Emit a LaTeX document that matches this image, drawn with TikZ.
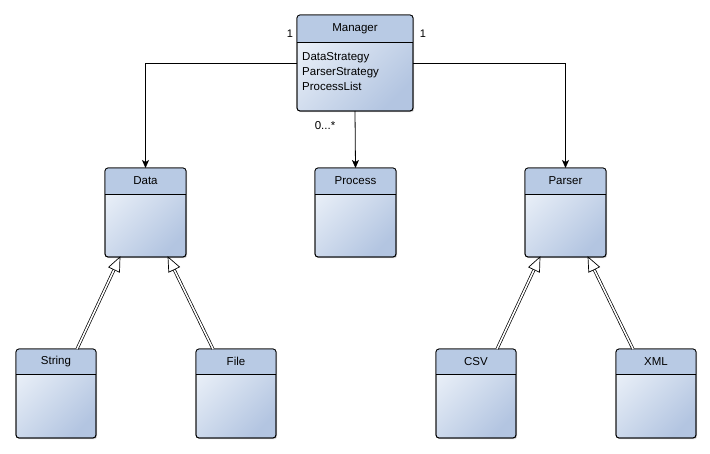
\documentclass[tikz,border=0pt]{standalone}
\usepackage{fontspec}
\setmainfont{Liberation Sans}
\usetikzlibrary{arrows.meta,calc,shadows}
\definecolor{headblue}{HTML}{B8CAE4}
\definecolor{lightblue}{HTML}{EAF0F8}
\definecolor{darkblue}{HTML}{B3C5E1}
\tikzset{
  classbox/.style={draw=black, line width=0.8pt, rounded corners=3pt, anchor=north west,
    inner sep=0pt, outer sep=0pt, top color=lightblue, bottom color=darkblue, shading angle=45,
    drop shadow={shadow xshift=1.2pt, shadow yshift=-1.2pt, opacity=0.25, fill=black!60}},
  classtitle/.style={font=\fontsize{11.5}{13}\selectfont, inner sep=0pt},
  label/.style={font=\fontsize{11}{13}\selectfont, inner sep=0pt},
  assoc/.style={line width=0.8pt, -{Stealth[length=8pt,width=7pt,inset=2pt]}},
  inherit/.style={line width=0.7pt, double, double distance=1.6pt, shorten >=13.5pt},
  inheritheadshape/.style={draw=black, line width=0.7pt, fill=white, line join=miter}
}
\newcommand\umlclass[7]{%
  \node[classbox, minimum width=#4pt, minimum height=#5pt] (#1) at (#2,-#3) {};
  \begin{scope}
    \clip[rounded corners=3pt] (#1.north west) rectangle (#1.south east);
    \fill[headblue] (#1.north west) rectangle ($(#1.north east)+(0,-#6)$);
  \end{scope}
  \draw[line width=0.8pt, rounded corners=3pt] (#1.north west) rectangle (#1.south east);
  \draw[line width=0.8pt] ($(#1.north west)+(0,-#6)$) -- ($(#1.north east)+(0,-#6)$);
  \node[classtitle] (#1-title) at ($(#1.north)+(0,-#6/2)$) {#7};
}
\newcommand\inheritarrow[4]{%
  \coordinate (#1-#3-s) at ($(#1.north)+(#2,0)$);
  \coordinate (#1-#3-t) at ($(#3.south)+(#4,0)$);
  \coordinate (#1-#3-b) at ($(#1-#3-t)!14pt!(#1-#3-s)$);
  \draw[inherit] (#1-#3-s) -- (#1-#3-t);
  \draw[inheritheadshape] (#1-#3-t) -- ($(#1-#3-b)!6pt!90:(#1-#3-t)$)
     -- ($(#1-#3-b)!6pt!-90:(#1-#3-t)$) -- cycle;
}
\begin{document}
\begin{tikzpicture}[x=1pt,y=1pt]
  \useasboundingbox (0,0) rectangle (710,-453);
  \fill[white] (0,0) rectangle (710,-453);

  \umlclass{manager}{297}{15}{116}{96}{27}{Manager}
  \node[anchor=north west, align=left, inner sep=0pt,
        font=\fontsize{11.5}{14.7}\selectfont] (attrs) at (302,-52.5)
        {DataStrategy\\ParserStrategy\\ProcessList};

  \umlclass{data}{105}{168}{81}{89}{26}{Data}
  \umlclass{process}{315}{168}{81}{89}{26}{Process}
  \umlclass{parser}{525}{168}{81}{89}{26}{Parser}

  \umlclass{string}{16}{349}{80}{89}{25}{String}
  \umlclass{file}{196}{349}{80}{89}{25}{File}
  \umlclass{csv}{436}{349}{80}{89}{25}{CSV}
  \umlclass{xml}{616}{349}{80}{89}{25}{XML}

  \draw[assoc] (manager.west) -| (data.north);
  \draw[assoc] (manager.east) -| (parser.north);
  \draw[assoc] (manager.south) -- (process.north);

  \node[label] (m1) at (290,-34) {1};
  \node[label] (m2) at (423,-34) {1};
  \node[label, font=\fontsize{11.5}{13}\selectfont] (m3) at (325,-126) {0...*};

  \inheritarrow{string}{21}{data}{-25.5}
  \inheritarrow{file}{-23}{data}{22.5}
  \inheritarrow{csv}{21}{parser}{-25.5}
  \inheritarrow{xml}{-23}{parser}{22.5}
\end{tikzpicture}
\end{document}
